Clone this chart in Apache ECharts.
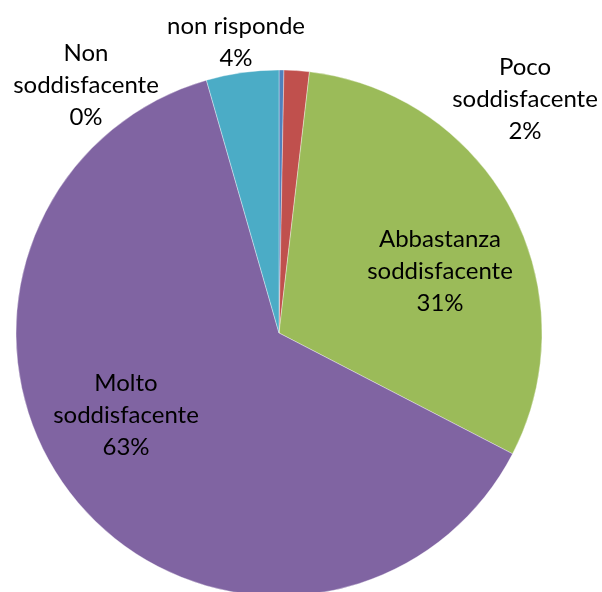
<!DOCTYPE html>
<html>
<head>
<meta charset="utf-8">
<script src="https://cdn.jsdelivr.net/npm/echarts@6/dist/echarts.min.js"></script>
<style>html,body{margin:0;padding:0;background:#fff}#c{width:602px;height:592px}</style>
</head>
<body>
<div id="c"></div>
<script>
var categories = ["Non soddisfacente", "Poco soddisfacente", "Abbastanza soddisfacente", "Molto soddisfacente", "non risponde"];
var labelNames = ["Non\nsoddisfacente", "Poco\nsoddisfacente", "Abbastanza\nsoddisfacente", "Molto\nsoddisfacente", "non risponde"];
var values = [0.3, 1.55, 30.75, 62.95, 4.45];
var colors = ["#4F81BD", "#C0504D", "#9BBB59", "#8064A2", "#4BACC6"];
var labelPos = [[86, 85], [525, 99], [440, 271], [126, 415], [236, 42]];

var chart = echarts.init(document.getElementById('c'), null, {renderer: 'canvas'});
chart.setOption({
  animation: false,
  series: [{
    type: 'pie',
    center: [279, 333],
    radius: [0, 263],
    startAngle: 90,
    clockwise: true,
    avoidLabelOverlap: false,
    data: categories.map(function (c, i) {
      return {name: c, value: values[i], itemStyle: {color: colors[i]}};
    }),
    itemStyle: {borderColor: 'rgba(255,255,255,0.6)', borderWidth: 0.6},
    label: {
      show: true,
      position: 'inside',
      color: '#000',
      fontFamily: 'Lato',
      fontSize: 24,
      lineHeight: 32,
      align: 'center',
      formatter: function (p) {
        return labelNames[p.dataIndex] + '\n' + Math.round(p.value) + '%';
      }
    },
    labelLine: {show: false},
    labelLayout: function (p) {
      var pos = labelPos[p.dataIndex];
      return {x: pos[0], y: pos[1], align: 'center', verticalAlign: 'middle'};
    }
  }]
});
</script>
</body>
</html>
